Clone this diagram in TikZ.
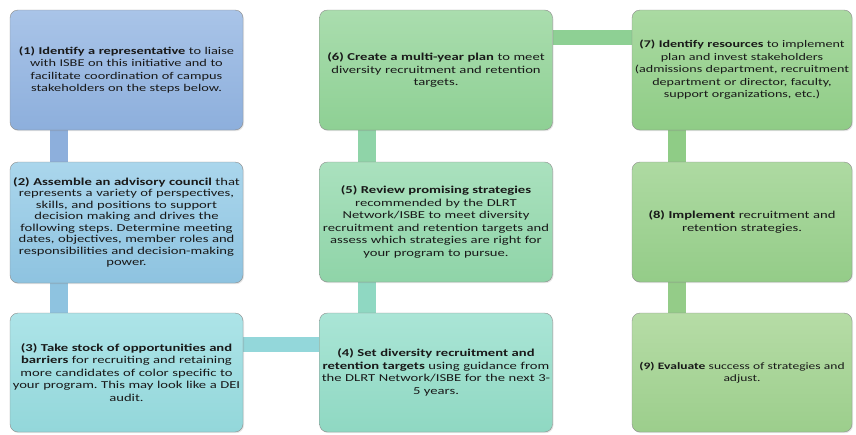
\documentclass[tikz,border=0pt]{standalone}
\usepackage{fontspec}
\setmainfont{Carlito}[FakeStretch=1.38]
\usetikzlibrary{backgrounds,shadows}
\definecolor{blueA}{HTML}{A9C4E8}\definecolor{blueB}{HTML}{8DAFDC}
\definecolor{skyA}{HTML}{AAD6EC}\definecolor{skyB}{HTML}{8EC3E0}
\definecolor{tealA}{HTML}{ADE4E8}\definecolor{tealB}{HTML}{93D7DA}
\definecolor{mintA}{HTML}{AAE5D6}\definecolor{mintB}{HTML}{8FD8C2}
\definecolor{jadeA}{HTML}{AAE1BE}\definecolor{jadeB}{HTML}{8FD4A8}
\definecolor{leafA}{HTML}{AADDAE}\definecolor{leafB}{HTML}{8ED094}
\definecolor{grasA}{HTML}{AADAA2}\definecolor{grasB}{HTML}{8FCC86}
\definecolor{sageA}{HTML}{AEDAA2}\definecolor{sageB}{HTML}{94CC88}
\definecolor{oliveA}{HTML}{B6DCA6}\definecolor{oliveB}{HTML}{9CCE8C}
\frenchspacing
\begin{document}
\begin{tikzpicture}[x=1pt,y=-1pt,
        box/.style={draw=black!45,rounded corners=8pt,align=center,inner xsep=0pt,inner ysep=4pt,text=black!90,
            font=\fontsize{10.6}{12.5}\selectfont,drop shadow={opacity=0.2,shadow xshift=1pt,shadow yshift=-1.2pt}},
        wide/.style={minimum width=233pt,text width=233pt},
        narrow/.style={minimum width=220pt,text width=220pt},
        bar/.style={line width=18pt}]
        \useasboundingbox (0,0) rectangle (856,434);
        % first column
        \node[box,wide,minimum height=120pt,top color=blueA,bottom color=blueB,font=\fontsize{10.4}{12.5}\selectfont] (b1) at (126.5,70) {\textbf{(1) Identify a representative} to liaise\\with ISBE on this initiative and to\\facilitate coordination of campus\\stakeholders on the steps below.};
        \node[box,wide,minimum height=121pt,top color=skyA,bottom color=skyB,font=\fontsize{10.6}{11.5}\selectfont] (b2) at (126.5,222.5) {\textbf{(2) Assemble an advisory council} that\\represents a variety of perspectives,\\skills, and positions to support\\decision making and drives the\\following steps. Determine meeting\\dates, objectives, member roles and\\responsibilities and decision-making\\power.};
        \node[box,wide,minimum height=119pt,top color=tealA,bottom color=tealB] (b3) at (126.5,372.5) {\textbf{(3) Take stock of opportunities and}\\\textbf{barriers} for recruiting and retaining\\more candidates of color specific to\\your program. This may look like a DEI\\audit.};
        % second column
        \node[box,wide,minimum height=119pt,top color=mintA,bottom color=mintB] (b4) at (436,372.5) {\textbf{(4) Set diversity recruitment and}\\\textbf{retention targets} using guidance from\\the DLRT Network/ISBE for the next 3-\\5 years.};
        \node[box,wide,minimum height=120pt,top color=jadeA,bottom color=jadeB] (b5) at (436,222) {\textbf{(5) Review promising strategies}\\recommended by the DLRT\\Network/ISBE to meet diversity\\recruitment and retention targets and\\assess which strategies are right for\\your program to pursue.};
        \node[box,wide,minimum height=120pt,top color=leafA,bottom color=leafB] (b6) at (436,70) {\textbf{(6) Create a multi-year plan} to meet\\diversity recruitment and retention\\targets.};
        % third column
        \node[box,narrow,minimum height=120pt,top color=grasA,bottom color=grasB,font=\fontsize{10.2}{12.5}\selectfont] (b7) at (742,70) {\textbf{(7) Identify resources} to implement\\plan and invest stakeholders\\(admissions department, recruitment\\department or director, faculty,\\support organizations, etc.)};
        \node[box,narrow,minimum height=120pt,top color=sageA,bottom color=sageB] (b8) at (742,222) {\textbf{(8) Implement} recruitment and\\retention strategies.};
        \node[box,narrow,minimum height=119pt,top color=oliveA,bottom color=oliveB,font=\fontsize{9.8}{12.5}\selectfont] (b9) at (742,372.5) {\textbf{(9) Evaluate} success of strategies and\\adjust.};
        \begin{scope}[on background layer]
            \foreach \a/\b/\c/\s in {b1/b2/blueB/49,b2/b3/skyB/49,b5/b4/mintB/47.5,b6/b5/jadeB/47.5,b7/b8/grasB/45.5,b8/b9/sageB/45.5} {
                \draw[bar,\c] ([xshift=\s pt]\a.south west) -- ([xshift=\s pt]\b.north west);
            }
            \draw[bar,line width=15pt,tealB] ([yshift=-31.5pt]b3.north east) -- ([yshift=-31.5pt]b4.north west); % 3
            \draw[bar,line width=15pt,leafB] ([yshift=-27.5pt]b6.north east) -- ([yshift=-27.5pt]b7.north west); % 6
        \end{scope}
    \end{tikzpicture}
\end{document}
